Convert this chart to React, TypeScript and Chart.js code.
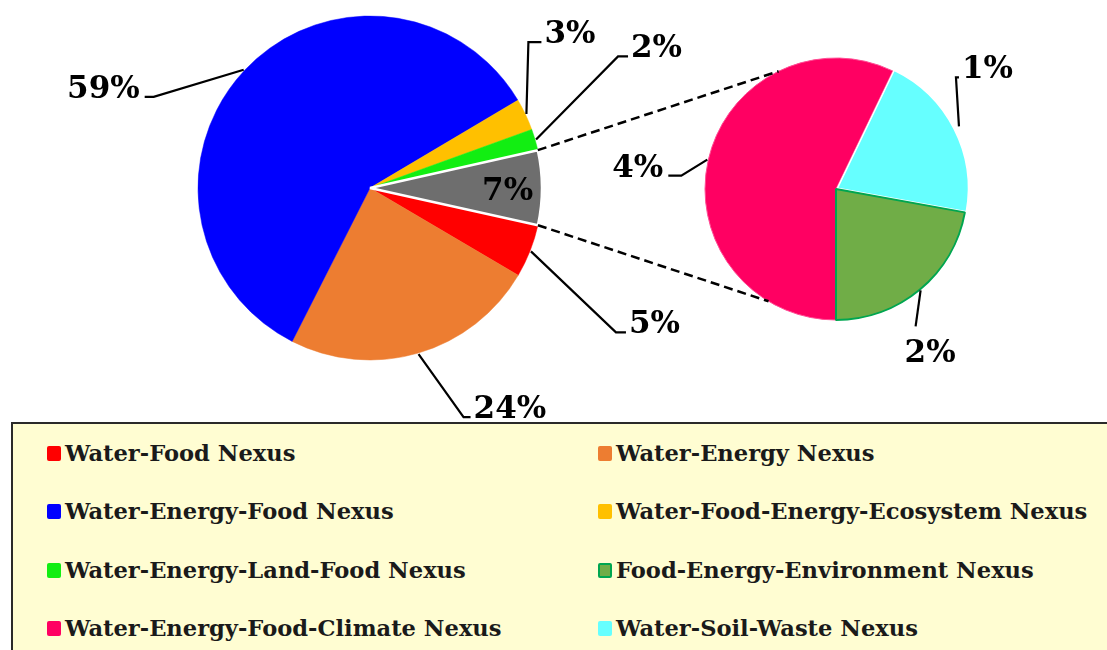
import React, { useEffect, useRef } from 'react';
import { Chart, registerables } from 'chart.js';

Chart.register(...registerables);

// ---------- data ----------
const mainCategories = [
  'Water-Food Nexus',
  'Water-Energy Nexus',
  'Water-Energy-Food Nexus',
  'Water-Food-Energy-Ecosystem Nexus',
  'Water-Energy-Land-Food Nexus',
  'Other',
];
const mainValues = [5, 24, 59, 3, 2, 7];
const mainColors = ['#FF0000', '#ED7D31', '#0000FF', '#FFC000', '#12EE12', '#6E6E6E'];

const subCategories = [
  'Water-Energy-Food-Climate Nexus',
  'Water-Soil-Waste Nexus',
  'Food-Energy-Environment Nexus',
];
const subValues = [4.0, 1.45, 1.55];
const subColors = ['#FF0062', '#66FFFF', '#70AD47'];

const legendCategories = [
  'Water-Food Nexus',
  'Water-Energy Nexus',
  'Water-Energy-Food Nexus',
  'Water-Food-Energy-Ecosystem Nexus',
  'Water-Energy-Land-Food Nexus',
  'Food-Energy-Environment Nexus',
  'Water-Energy-Food-Climate Nexus',
  'Water-Soil-Waste Nexus',
];

// ---------- layout / style ----------
const W = 1107;
const CH = 420;
const LABEL_FONT = 'bold 31px "DejaVu Serif"';

type Leader = { dx: number; dy: number; tail: number; below?: boolean } | null;
const mainLeaders: Leader[] = [
  { dx: 85, dy: 81, tail: 10 },
  { dx: 45, dy: 63, tail: 7 },
  { dx: -90, dy: 27, tail: -9 },
  { dx: 2, dy: -72, tail: 13 },
  { dx: 82, dy: -83, tail: 10 },
  null,
];
const subLeaders: Leader[] = [
  { dx: -26, dy: 16, tail: -13 },
  { dx: -3, dy: -49, tail: 3 },
  { dx: -5, dy: 36, tail: 0, below: true },
];

const pct = (v: number) => Math.round(v) + '%';

function drawLeaders(chart: any, leaders: Leader[], values: number[]) {
  const ctx = chart.ctx as CanvasRenderingContext2D;
  const meta = chart.getDatasetMeta(0);
  ctx.save();
  ctx.font = LABEL_FONT;
  ctx.fillStyle = '#000';
  ctx.strokeStyle = '#000';
  ctx.lineWidth = 2.2;
  meta.data.forEach((arc: any, i: number) => {
    const { x, y, startAngle, endAngle, outerRadius } = arc.getProps(
      ['x', 'y', 'startAngle', 'endAngle', 'outerRadius'],
      true
    );
    const mid = (startAngle + endAngle) / 2;
    const off = arc.options.offset || 0;
    const ox = Math.cos(mid) * off;
    const oy = Math.sin(mid) * off;
    const L = leaders[i];
    const text = pct(values[i]);
    if (!L) {
      ctx.textAlign = 'center';
      ctx.textBaseline = 'alphabetic';
      ctx.fillText(text, x + Math.cos(mid) * outerRadius * 0.8, y + Math.sin(mid) * outerRadius * 0.8 + 12);
      return;
    }
    const ex = x + ox + Math.cos(mid) * (outerRadius + 1);
    const ey = y + oy + Math.sin(mid) * (outerRadius + 1);
    const bx = ex + L.dx;
    const by = ey + L.dy;
    const tx = bx + L.tail;
    ctx.beginPath();
    ctx.moveTo(ex, ey);
    ctx.lineTo(bx, by);
    if (L.tail !== 0) ctx.lineTo(tx, by);
    ctx.stroke();
    ctx.textBaseline = 'alphabetic';
    if (L.below) {
      ctx.textAlign = 'left';
      ctx.fillText(text, bx - 11, by + 36);
    } else if (L.tail > 0) {
      ctx.textAlign = 'left';
      ctx.fillText(text, tx + 3, by + 1);
    } else {
      ctx.textAlign = 'right';
      ctx.fillText(text, tx - 5, by + 1);
    }
  });
  ctx.restore();
}

export default function App() {
  const mainRef = useRef<HTMLCanvasElement>(null);
  const subRef = useRef<HTMLCanvasElement>(null);

  useEffect(() => {
    const mainCx = 370, mainCy = 188, mainR = 172;
    const subCx = 836, subCy = 189, subR = 131;

    const main = new Chart(mainRef.current!, {
      type: 'pie',
      data: {
        labels: mainCategories,
        datasets: [
          {
            data: mainValues,
            backgroundColor: mainColors,
            borderColor: mainColors.map((c, i) => (i === 5 ? '#FFFFFF' : c)),
            borderWidth: mainColors.map((_, i) => (i === 5 ? 2.5 : 0.5)),
          },
        ],
      },
      options: {
        responsive: false,
        maintainAspectRatio: false,
        animation: false,
        rotation: 102.5,
        radius: mainR,
        layout: {
          padding: {
            left: mainCx - mainR,
            right: W - (mainCx + mainR),
            top: mainCy - mainR,
            bottom: CH - (mainCy + mainR),
          },
        },
        plugins: { legend: { display: false }, tooltip: { enabled: false } },
      },
      plugins: [
        {
          id: 'mainLabels',
          afterDatasetsDraw(chart: any) {
            drawLeaders(chart, mainLeaders, mainValues);
          },
        },
      ],
    } as any);

    const sub = new Chart(subRef.current!, {
      type: 'pie',
      data: {
        labels: subCategories,
        datasets: [
          {
            data: subValues,
            backgroundColor: subColors,
            borderColor: ['#FF4D94', '#FFFFFF', '#00A650'],
            borderWidth: [1, 1.5, 2],
            offset: [0, 6, 0],
          },
        ],
      },
      options: {
        responsive: false,
        maintainAspectRatio: false,
        animation: false,
        rotation: 180,
        radius: subR,
        layout: {
          padding: {
            left: subCx - subR,
            right: W - (subCx + subR),
            top: subCy - subR,
            bottom: CH - (subCy + subR),
          },
        },
        plugins: { legend: { display: false }, tooltip: { enabled: false } },
      },
      plugins: [
        {
          id: 'subLabels',
          afterDatasetsDraw(chart: any) {
            drawLeaders(chart, subLeaders, subValues);
            // connector lines from the "Other" slice to the secondary pie
            const g = main.getDatasetMeta(0).data[5] as any;
            const gp = g.getProps(['x', 'y', 'startAngle', 'endAngle', 'outerRadius'], true);
            const s = chart.getDatasetMeta(0).data[0] as any;
            const sp = s.getProps(['x', 'y', 'outerRadius'], true);
            const a1 = (244 * Math.PI) / 180;
            const a2 = (121 * Math.PI) / 180;
            const ctx = chart.ctx as CanvasRenderingContext2D;
            ctx.save();
            ctx.strokeStyle = '#000';
            ctx.lineWidth = 2.5;
            ctx.setLineDash([9, 5]);
            ctx.beginPath();
            ctx.moveTo(gp.x + Math.cos(gp.startAngle) * gp.outerRadius, gp.y + Math.sin(gp.startAngle) * gp.outerRadius);
            ctx.lineTo(sp.x + Math.cos(a1) * sp.outerRadius, sp.y + Math.sin(a1) * sp.outerRadius);
            ctx.moveTo(gp.x + Math.cos(gp.endAngle) * gp.outerRadius, gp.y + Math.sin(gp.endAngle) * gp.outerRadius);
            ctx.lineTo(sp.x + Math.cos(a2) * sp.outerRadius, sp.y + Math.sin(a2) * sp.outerRadius);
            ctx.stroke();
            ctx.restore();
          },
        },
      ],
    } as any);

    return () => {
      sub.destroy();
      main.destroy();
    };
  }, []);

  const colorOf = (name: string) => {
    const i = mainCategories.indexOf(name);
    if (i >= 0) return mainColors[i];
    return subColors[subCategories.indexOf(name)];
  };

  const rowTops = [16, 74, 133, 191];
  const colLefts = [34, 585];

  return (
    <div
      style={{
        position: 'absolute',
        left: 0,
        top: 0,
        width: W,
        height: 650,
        overflow: 'hidden',
        background: '#FFFFFF',
      }}
    >
      <canvas
        ref={mainRef}
        width={W}
        height={CH}
        style={{ position: 'absolute', left: 0, top: 0, display: 'block' }}
      />
      <canvas
        ref={subRef}
        width={W}
        height={CH}
        style={{ position: 'absolute', left: 0, top: 0, display: 'block' }}
      />
      <div
        style={{
          position: 'absolute',
          left: 11,
          top: 422,
          width: 1120,
          height: 260,
          border: '2px solid #2A2A2A',
          background: '#FFFDD2',
        }}
      >
        {legendCategories.map((name, i) => {
          const col = i % 2;
          const row = Math.floor(i / 2);
          const isFEE = name === 'Food-Energy-Environment Nexus';
          return (
            <div
              key={name}
              style={{
                position: 'absolute',
                left: colLefts[col],
                top: rowTops[row],
                display: 'flex',
                alignItems: 'center',
                height: 26,
                whiteSpace: 'nowrap',
              }}
            >
              <span
                style={{
                  display: 'inline-block',
                  width: 14,
                  height: 15,
                  boxSizing: 'border-box',
                  background: colorOf(name),
                  border: isFEE ? '2px solid #00A650' : 'none',
                  borderRadius: 2,
                  marginRight: 4,
                }}
              />
              <span
                style={{
                  font: 'bold 22.6px "DejaVu Serif"',
                  lineHeight: '26px',
                  color: '#1A1A1A',
                }}
              >
                {name}
              </span>
            </div>
          );
        })}
      </div>
    </div>
  );
}
